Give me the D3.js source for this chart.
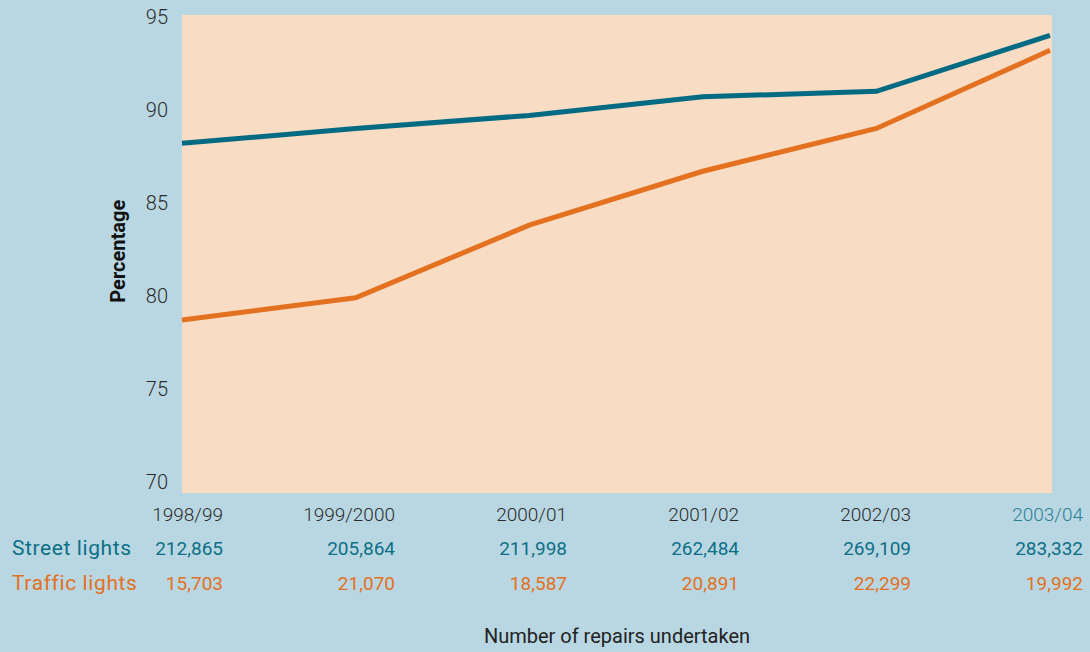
<!DOCTYPE html>
<html>
<head>
<meta charset="utf-8">
<script src="https://cdn.jsdelivr.net/npm/d3@7"></script>
<style>
  body { margin: 0; background: #b9d7e2; }
  svg { display: block; font-family: Roboto, "Liberation Sans", sans-serif; }
</style>
</head>
<body>
<div id="chart"></div>
<script>
const years = ['1998/99', '1999/2000', '2000/01', '2001/02', '2002/03', '2003/04'];
const streetPct = [88.1, 88.9, 89.6, 90.6, 90.9, 93.9];
const trafficPct = [78.6, 79.8, 83.7, 86.6, 88.9, 93.1];
const streetRepairs = ['212,865', '205,864', '211,998', '262,484', '269,109', '283,332'];
const trafficRepairs = ['15,703', '21,070', '18,587', '20,891', '22,299', '19,992'];
const yTicks = [70, 75, 80, 85, 90, 95];

const width = 1090, height = 652;
const teal = '#006b82', orange = '#e3711f';

const svg = d3.select('#chart').append('svg')
    .attr('width', width)
    .attr('height', height);

svg.append('rect')
    .attr('width', width).attr('height', height)
    .attr('fill', '#b9d7e2');

const x = d3.scalePoint().domain(years).range([182, 1050]);
const y = d3.scaleLinear().domain([70, 95]).range([480, 15]);

// plot background
svg.append('rect')
    .attr('x', 182).attr('y', y(95))
    .attr('width', 1052 - 182).attr('height', 493 - y(95))
    .attr('fill', '#f8dcc4');

// y axis labels
const yAxis = svg.append('g')
    .attr('transform', 'translate(168,0)')
    .call(d3.axisLeft(y).tickValues(yTicks).tickSize(0).tickPadding(0));
yAxis.select('.domain').remove();
yAxis.selectAll('text')
    .attr('font-size', 20)
    .attr('font-family', 'Roboto, sans-serif')
    .attr('font-weight', 300)
    .attr('fill', '#2b2b2b')
    .attr('dy', '0.4em');

svg.append('text')
    .attr('transform', `translate(125,${y(82.3)}) rotate(-90)`)
    .attr('text-anchor', 'middle')
    .attr('font-size', 20)
    .attr('font-weight', 700)
    .attr('fill', '#111')
    .text('Percentage');

// lines
const line = d3.line()
    .x((d, i) => x(years[i]))
    .y(d => y(d));

[[trafficPct, orange], [streetPct, teal]].forEach(([data, color]) => {
    svg.append('path')
        .datum(data)
        .attr('fill', 'none')
        .attr('stroke', color)
        .attr('stroke-width', 5)
        .attr('d', line);
});

// table below
const col = d3.scalePoint().domain(years).range([223, 1083]);

svg.append('g').selectAll('text')
    .data(years)
    .join('text')
    .attr('x', d => col(d))
    .attr('y', 521)
    .attr('text-anchor', 'end')
    .attr('font-size', 19)
    .attr('font-weight', 300)
    .attr('fill', (d, i) => i === years.length - 1 ? '#2a7f95' : '#2b2b2b')
    .text(d => d);

const rows = [
    { label: 'Street lights', values: streetRepairs, color: '#0c6f86', y: 555 },
    { label: 'Traffic lights', values: trafficRepairs, color: '#e3711f', y: 590 }
];

rows.forEach(r => {
    svg.append('text')
        .attr('x', 12).attr('y', r.y)
        .attr('font-size', 21)
        .attr('letter-spacing', 0.6)
        .attr('fill', r.color)
        .text(r.label);
    svg.append('g').selectAll('text')
        .data(r.values)
        .join('text')
        .attr('x', (d, i) => col(years[i]))
        .attr('y', r.y)
        .attr('text-anchor', 'end')
        .attr('font-size', 19)
        .attr('fill', r.color)
        .text(d => d);
});

svg.append('text')
    .attr('x', 617).attr('y', 643)
    .attr('text-anchor', 'middle')
    .attr('font-size', 20)
    .attr('fill', '#222')
    .text('Number of repairs undertaken');
</script>
</body>
</html>
